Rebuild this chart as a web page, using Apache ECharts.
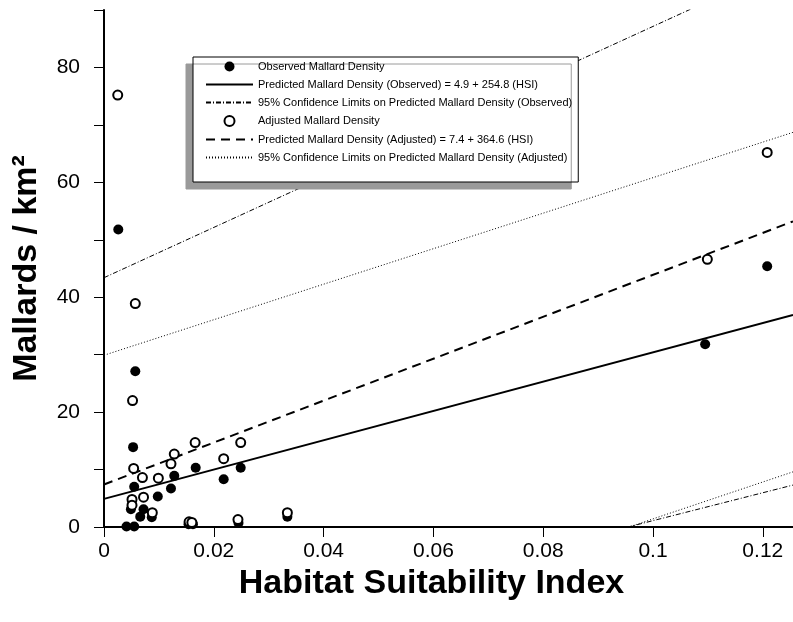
<!DOCTYPE html>
<html>
<head>
<meta charset="utf-8">
<script src="https://cdn.jsdelivr.net/npm/echarts@6/dist/echarts.min.js"></script>
<style>
  html, body { margin: 0; padding: 0; background: #fff; }
  #chart { width: 793px; height: 622px; }
</style>
</head>
<body>
<div id="chart"></div>
<script>
// observed mallard density [HSI, mallards/km2]
var observed = [
    [0.0026, 51.8], [0.0057, 27.1], [0.0053, 13.9], [0.0055, 7.0], [0.0049, 3.1],
    [0.0041, 0.1], [0.0055, 0.1], [0.0066, 1.8], [0.0072, 3.1], [0.0087, 1.7],
    [0.0098, 5.3], [0.0122, 6.7], [0.0128, 8.9], [0.0167, 10.3], [0.0154, 0.5],
    [0.0162, 0.5], [0.0218, 8.3], [0.0249, 10.3], [0.0245, 0.7], [0.0334, 1.8],
    [0.1095, 31.8], [0.1208, 45.4]
];
// adjusted mallard density
var adjusted = [
    [0.0025, 75.2], [0.0057, 38.9], [0.0052, 22.0], [0.0054, 10.2], [0.0051, 4.8],
    [0.0051, 3.8], [0.0070, 8.6], [0.0072, 5.2], [0.0088, 2.5], [0.0099, 8.5],
    [0.0122, 11.0], [0.0128, 12.7], [0.0166, 14.7], [0.0155, 0.9], [0.0160, 0.8],
    [0.0218, 11.9], [0.0249, 14.7], [0.0244, 1.3], [0.0334, 2.5], [0.1099, 46.6],
    [0.1208, 65.2]
];
// line ends (x = 0 and x = right edge)
var obsFit   = [[0, 4.9], [0.1255, 36.9]];
var adjFit   = [[0, 7.4], [0.1255, 53.2]];
var obsUpper = [[0, 43.4], [0.1255, 98.3]];
var obsLower = [[0, -23.2], [0.1255, 7.3]];
var adjUpper = [[0, 29.9], [0.1255, 68.7]];
var adjLower = [[0, -30.7], [0.1255, 9.6]];

var names = [
    'Observed Mallard Density',
    'Predicted Mallard Density (Observed) = 4.9 + 254.8 (HSI)',
    '95% Confidence Limits on Predicted Mallard Density (Observed)',
    'Adjusted Mallard Density',
    'Predicted Mallard Density (Adjusted) = 7.4 + 364.6 (HSI)',
    '95% Confidence Limits on Predicted Mallard Density (Adjusted)'
];

var font = "'Liberation Sans', Arial, sans-serif";
var myChart = echarts.init(document.getElementById('chart'));

function line(name, data, type, width) {
    return {
        name: name,
        type: 'line',
        data: data,
        symbol: 'none',
        silent: true,
        z: 2,
        itemStyle: { color: 'rgba(0,0,0,0)', borderWidth: 0 },   // no dot in legend icon
        lineStyle: { color: '#000', width: width, type: type }
    };
}

myChart.setOption({
    animation: false,
    backgroundColor: '#fff',
    textStyle: { fontFamily: font },
    grid: {   // plot area
        left: 104,
        right: 0,
        top: 10,
        bottom: 95
    },
    legend: {
        orient: 'vertical',
        left: 193,
        top: 57,
        data: names,
        itemWidth: 47,
        itemHeight: 10,
        itemGap: 7,
        padding: [4, 6, 19, 12],
        backgroundColor: '#fff',
        borderColor: '#000',
        borderWidth: 1,
        shadowColor: '#9a9a9a',
        shadowBlur: 0,
        shadowOffsetX: -7,
        shadowOffsetY: 7,
        selectedMode: false,
        textStyle: { fontSize: 11, color: '#000', fontFamily: font }
    },
    xAxis: {
        type: 'value',
        min: 0,
        max: 0.1255,
        interval: 0.02,
        name: 'Habitat Suitability Index',
        nameLocation: 'middle',
        nameGap: 37,
        nameTextStyle: {
            fontSize: 34, fontWeight: 'bold', color: '#000',
            fontFamily: font, padding: [0, 34, 0, 0]
        },
        axisLine: { lineStyle: { color: '#000', width: 2 } },
        axisTick: { length: 10, lineStyle: { color: '#000', width: 1 } },
        axisLabel: {
            fontSize: 21, color: '#000', margin: 14, showMaxLabel: false,
            formatter: function (v) { return String(Math.round(v * 100) / 100); }
        },
        splitLine: { show: false }
    },
    yAxis: {
        type: 'value',
        min: 0,
        max: 90,
        interval: 10,
        name: 'Mallards / km²',
        nameLocation: 'middle',
        nameRotate: 90,
        nameGap: 60,
        nameTextStyle: { fontSize: 34, fontWeight: 'bold', color: '#000', fontFamily: font },
        axisLine: { show: true, lineStyle: { color: '#000', width: 2 } },
        axisTick: { show: true, length: 10, lineStyle: { color: '#000', width: 1 } },
        axisLabel: {
            fontSize: 21, color: '#000', margin: 24,
            formatter: function (v) { return v % 20 === 0 ? v : ''; }
        },
        splitLine: { show: false }
    },
    series: [
        {
            name: names[0],
            type: 'scatter',
            data: observed,
            symbolSize: 10,
            z: 4,
            itemStyle: { color: '#000', opacity: 1 }
        },
        line(names[1], obsFit, 'solid', 2),
        line(names[2], obsUpper, [5, 2, 1, 2], 1),
        line(names[2], obsLower, [5, 2, 1, 2], 1),
        {
            name: names[3],
            type: 'scatter',
            data: adjusted,
            symbolSize: 9,
            z: 5,
            itemStyle: { color: '#fff', borderColor: '#000', borderWidth: 2, opacity: 1 }
        },
        line(names[4], adjFit, [9, 6], 2),
        line(names[5], adjUpper, [1, 2], 1),
        line(names[5], adjLower, [1, 2], 1)
    ]
});
</script>
</body>
</html>
